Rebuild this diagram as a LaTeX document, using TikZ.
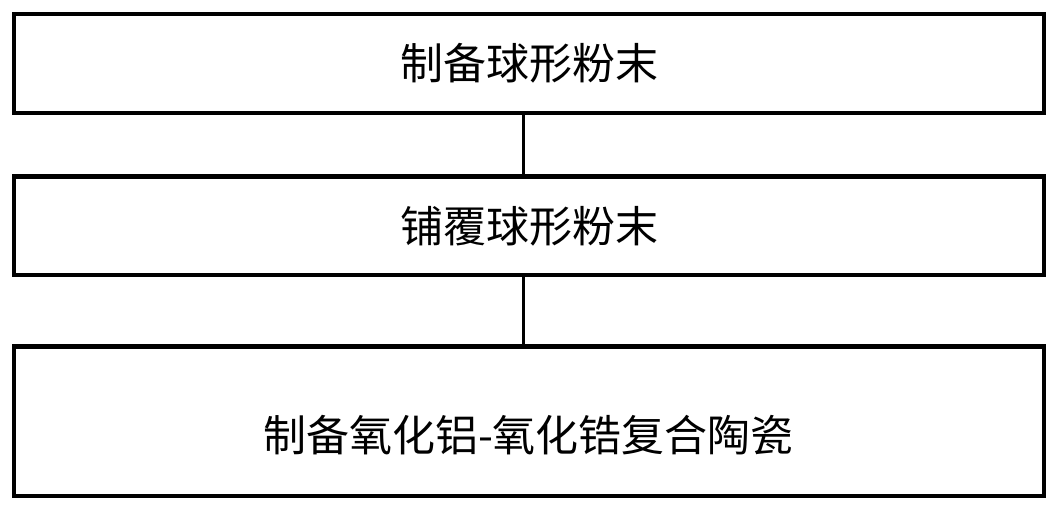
\documentclass[tikz,border=0pt]{standalone}
\usepackage{fontspec}
\newfontfamily\cjk{Noto Sans CJK SC}
\begin{document}
\begin{tikzpicture}[x=1pt,y=-1pt,
  stepbox/.style={draw=black, line width=4.5pt, minimum width=1030pt, inner sep=0pt,
    font=\cjk\fontsize{43}{50}\selectfont, text=black},
  link/.style={line width=3.2pt, draw=black}]
\useasboundingbox (0,0) rectangle (1061,511);
\node[stepbox, minimum height=99pt] (b1) at (529,63.5) {制备球形粉末};
\node[stepbox, minimum height=98.5pt] (b2) at (529,225.8) {铺覆球形粉末};
\node[stepbox, minimum height=149.5pt] (b3) at (529,421.3) {};
\node[font=\cjk\fontsize{43}{50}\selectfont, inner sep=0pt] (t3) at (528.5,435) {制备氧化铝-氧化锆复合陶瓷};
\draw[link] (b1.south -| 523.5,0) -- (b2.north -| 523.5,0);
\draw[link] (b2.south -| 523.5,0) -- (b3.north -| 523.5,0);
\end{tikzpicture}
\end{document}
